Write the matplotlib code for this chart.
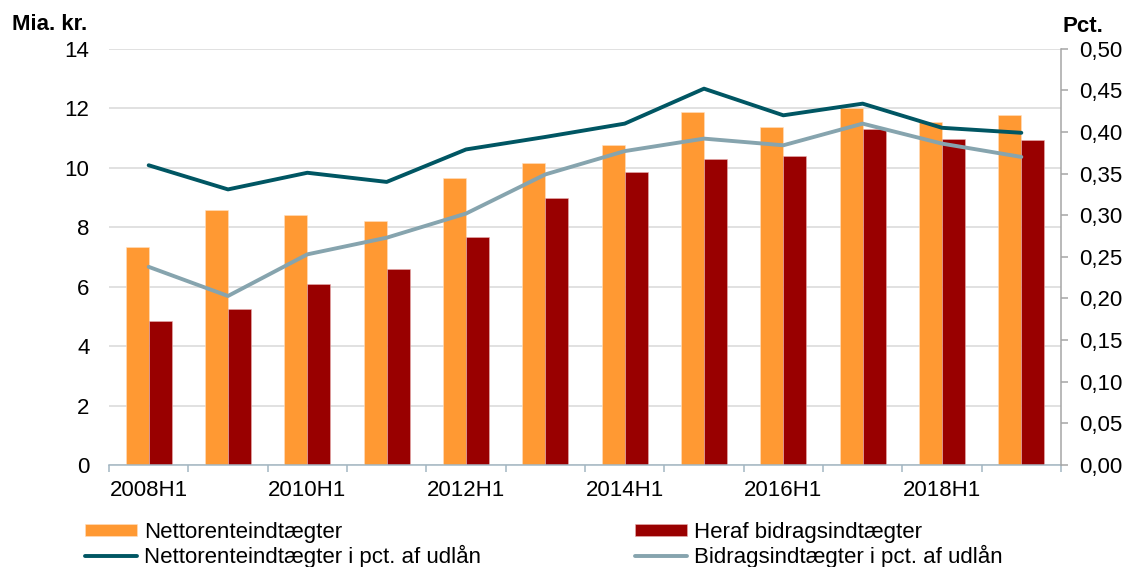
import matplotlib
matplotlib.use("Agg")
import matplotlib.pyplot as plt
from matplotlib.ticker import FuncFormatter, FixedLocator
import numpy as np

plt.rcParams['font.family'] = ['Liberation Sans', 'DejaVu Sans']

categories = ["2008H1", "2009H1", "2010H1", "2011H1", "2012H1", "2013H1",
              "2014H1", "2015H1", "2016H1", "2017H1", "2018H1", "2019H1"]
netto = [7.33, 8.57, 8.40, 8.20, 9.65, 10.15, 10.75, 11.86, 11.36, 12.00, 11.53, 11.76]
bidrag = [4.84, 5.24, 6.08, 6.59, 7.66, 8.97, 9.87, 10.28, 10.39, 11.29, 10.96, 10.92]
netto_pct = [0.360, 0.331, 0.351, 0.340, 0.379, 0.394, 0.410, 0.452, 0.420, 0.434, 0.405, 0.399]
bidrag_pct = [0.238, 0.203, 0.253, 0.273, 0.302, 0.349, 0.377, 0.392, 0.384, 0.410, 0.386, 0.370]

ORANGE = "#FF9933"
RED = "#990000"
TEAL = "#005663"
GREY = "#86A4AE"
FS = 16

W, H = 1132, 567
fig = plt.figure(figsize=(W / 100, H / 100), dpi=100)
ax = fig.add_axes([109 / W, 1 - 465 / H, (1061 - 109) / W, (465 - 48.7) / H])
ax2 = ax.twinx()

x = np.arange(len(categories))
bw = 0.29
ax.bar(x - bw / 2, netto, width=bw, color=ORANGE, edgecolor="#FFE0C0", linewidth=0.4,
       label="Nettorenteindtægter", zorder=2)
ax.bar(x + bw / 2, bidrag, width=bw, color=RED, edgecolor="#E8B0B0", linewidth=0.4,
       label="Heraf bidragsindtægter", zorder=2)

ax2.plot(x, netto_pct, color=TEAL, lw=2.8, solid_capstyle="round",
         label="Nettorenteindtægter i pct. af udlån")
ax2.plot(x, bidrag_pct, color=GREY, lw=2.8, solid_capstyle="round",
         label="Bidragsindtægter i pct. af udlån")

ax.set_xlim(-0.5, len(categories) - 0.5)
ax.set_ylim(0, 14)
ax.set_yticks(np.arange(0, 15, 2))
ax.yaxis.grid(True, color="#D9D9D9", lw=1.1, zorder=0)
ax.set_axisbelow(True)
ax2.set_ylim(0, 0.5)
ax2.set_yticks(np.arange(0, 0.501, 0.05))
ax2.yaxis.set_major_formatter(FuncFormatter(lambda v, p: f"{v:.2f}".replace(".", ",")))

for s in ["top", "left"]:
    ax.spines[s].set_visible(False)
    ax2.spines[s].set_visible(False)
ax.spines["right"].set_visible(False)
ax2.spines["bottom"].set_visible(False)
ax.spines["bottom"].set_color("#A3B6C2")
ax.spines["bottom"].set_linewidth(1.1)
ax2.spines["right"].set_color("#A6A6A6")
ax2.spines["right"].set_linewidth(1.1)

ax.tick_params(axis="y", length=0, pad=14, labelsize=FS, labelcolor="#000000")
ax2.tick_params(axis="y", length=5, width=1.1, color="#A6A6A6", pad=8, labelsize=FS)

label_pos = x[::2]
ax.set_xticks(label_pos)
ax.set_xticklabels([categories[i] for i in label_pos])
ax.xaxis.set_minor_locator(FixedLocator(np.arange(-0.5, len(categories), 1.0)))
ax.tick_params(axis="x", which="major", length=0, pad=11, labelsize=FS)
ax.tick_params(axis="x", which="minor", length=5, width=1.1, color="#A3B6C2")

fig.text(12 / W, 1 - 24 / H, "Mia. kr.", fontsize=FS, fontweight="bold", va="center", ha="left")
fig.text(1062 / W, 1 - 26 / H, "Pct.", fontsize=FS, fontweight="bold", va="center", ha="left")

h1, l1 = ax.get_legend_handles_labels()
h2, l2 = ax2.get_legend_handles_labels()
common = dict(frameon=False, fontsize=FS, handlelength=2.35, handleheight=0.45,
              handletextpad=0.3, labelspacing=0.1, borderpad=0, borderaxespad=0,
              loc="upper left")
leg1 = fig.legend([h1[0], h2[0]], [l1[0], l2[0]], bbox_to_anchor=(85 / W, 1 - 522 / H), **common)
leg2 = fig.legend([h1[1], h2[1]], [l1[1], l2[1]], bbox_to_anchor=(635 / W, 1 - 522 / H), **common)

fig.savefig("out.png", dpi=100)
